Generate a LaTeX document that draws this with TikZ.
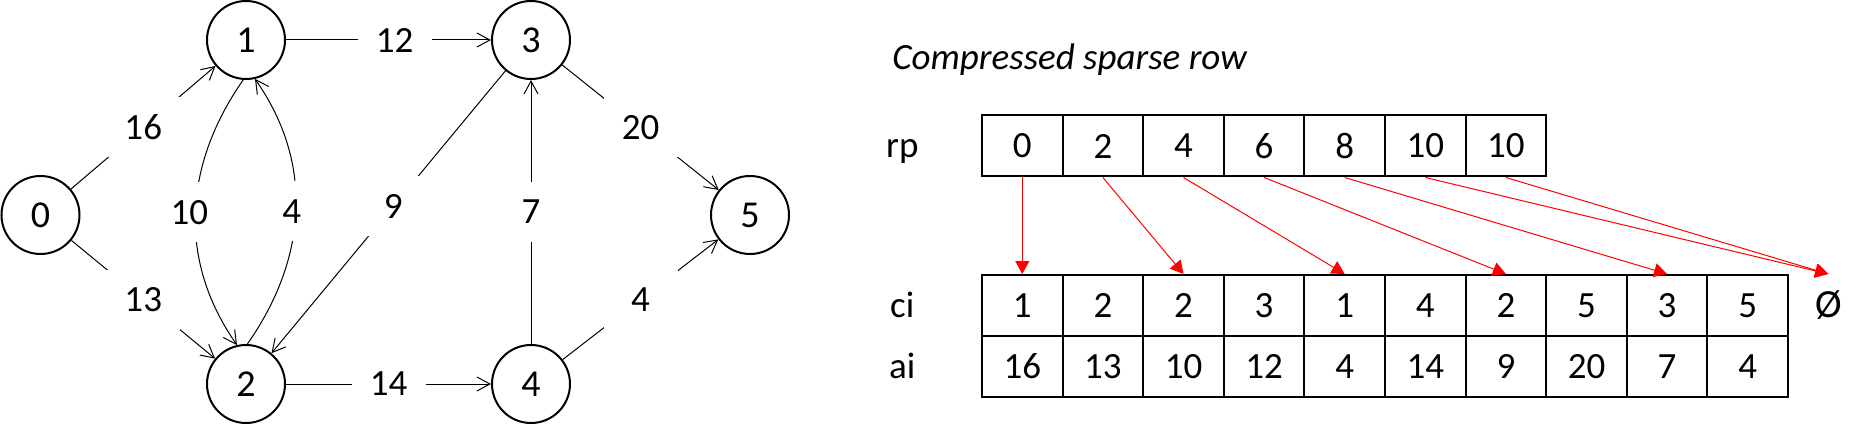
\documentclass[tikz,border=0pt]{standalone}
\usepackage{fontspec}
\setmainfont{Carlito}
\usetikzlibrary{arrows.meta, positioning}

\begin{document}
\begin{tikzpicture}[
    x=0.5pt, y=0.5pt,
    vertex/.style={draw, circle, line width=1pt, minimum size=39pt, inner sep=0pt, font=\fontsize{19}{22}\selectfont},
    weight/.style={fill=white, minimum width=37pt, minimum height=30pt, inner sep=0pt, font=\fontsize{18.5}{22}\selectfont},
    edge/.style={line width=0.5pt, -{Straight Barb[length=6.5pt, width=7pt]}},
    cell/.style={draw, line width=1pt, minimum width=40.3pt, minimum height=30.5pt, inner sep=0pt, font=\fontsize{18.5}{22}\selectfont},
    rowlabel/.style={anchor=base, inner sep=0pt, font=\fontsize{18.5}{22}\selectfont},
    ptr/.style={red, line width=0.5pt, -{Triangle[length=6.5pt, width=7pt]}}
  ]
  \useasboundingbox (0,0) rectangle (1869,429);

  % Draw the graph
  \node[vertex] (v0) at (40.5,214) {0};
  \node[vertex] (v1) at (246,389) {1};
  \node[vertex] (v2) at (246,45) {2};
  \node[vertex] (v3) at (531,389) {3};
  \node[vertex] (v4) at (531,45) {4};
  \node[vertex] (v5) at (750,214) {5};

  \draw[edge] (v0) -- node[weight] {16} (v1);
  \draw[edge] (v0) -- node[weight] {13} (v2);
  \draw[edge] (v1) -- node[weight, pos=0.53] {12} (v3);
  \draw[edge] (v2) -- node[weight] {14} (v4);
  \draw[edge] (v3) -- node[weight, pos=0.48] {9} (v2);
  \draw[edge] (v4) -- node[weight] {7} (v3);
  \draw[edge] (v3) -- node[weight] {20} (v5);
  \draw[edge] (v4) -- node[weight] {4} (v5);
  \draw[edge] (v1.266) to[out=235, in=125] node[weight, xshift=-3pt] {10} (v2.103);
  \draw[edge] (v2.88) to[out=55, in=305] node[weight, xshift=-2pt] {4} (v1.283);

  % Draw the arrays
  \node[font=\fontsize{18.5}{22}\selectfont\itshape, anchor=base west, inner sep=0pt] (title) at (892,359) {Compressed sparse row};

  \foreach \v [count=\i from 0] in {0,2,4,6,8,10,10}
    \node[cell] (rp\i) at ({982+(\i+0.5)*80.6},283) {\v};
  \foreach \v [count=\i from 0] in {1,2,2,3,1,4,2,5,3,5}
    \node[cell] (ci\i) at ({982+(\i+0.5)*80.6},123.5) {\v};
  \node[cell, draw=none, font=\fontsize{20}{22}\selectfont] (ci10) at ({982+10.5*80.6},123.5) {Ø};
  \foreach \v [count=\i from 0] in {16,13,10,12,4,14,9,20,7,4}
    \node[cell] (ai\i) at ({982+(\i+0.5)*80.6},62.5) {\v};

  \node[rowlabel] (rplabel) at ([xshift=-60pt]rp0.base) {rp};
  \node[rowlabel] (cilabel) at ([xshift=-60pt]ci0.base) {ci};
  \node[rowlabel] (ailabel) at ([xshift=-60pt]ai0.base) {ai};

  % Draw the row pointers
  \foreach \s/\t in {0/0,1/2,2/4,3/6,4/8,5/10,6/10}
    \draw[ptr] (rp\s.south) -- (ci\t.north);

\end{tikzpicture}
\end{document}
